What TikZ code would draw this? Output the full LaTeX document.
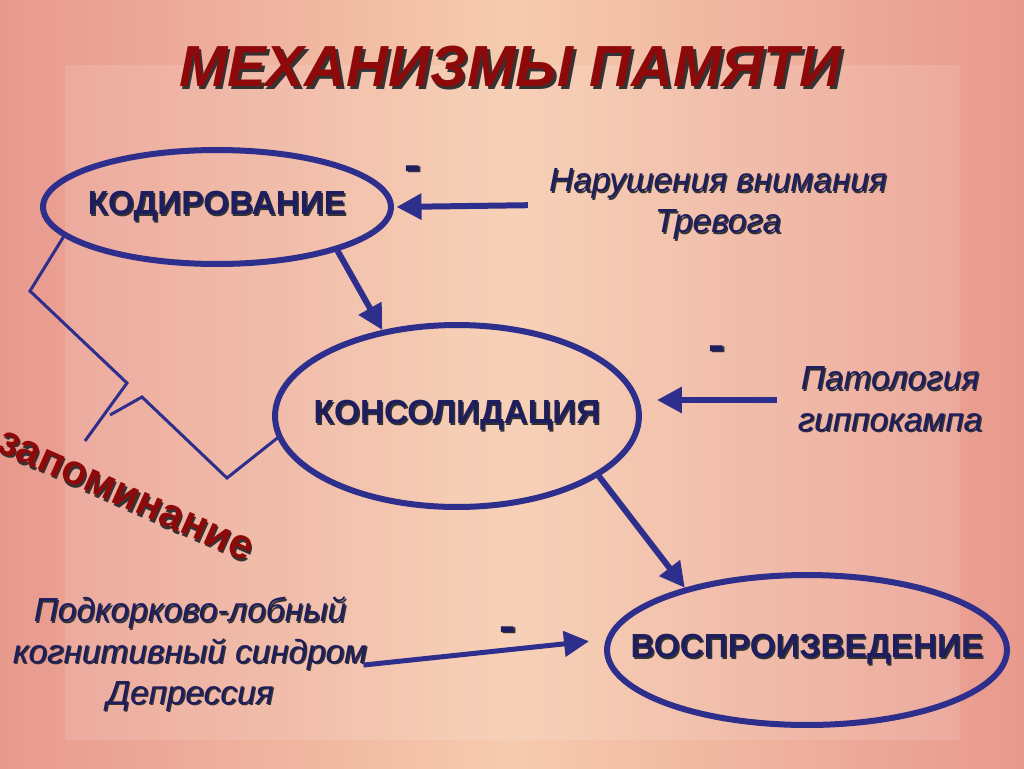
\documentclass[tikz,border=0pt]{standalone}
\usepackage{fontspec}
\setmainfont{Liberation Sans}
\usetikzlibrary{shapes.geometric, arrows.meta, calc, positioning}
\definecolor{navy}{HTML}{2E2E8C}
\definecolor{inknavy}{HTML}{1E1E5E}
\definecolor{darkred}{HTML}{8E0A0A}
\definecolor{bgpink}{HTML}{E8998D}
\definecolor{bgpeach}{HTML}{F6CBAE}
\newcommand{\shad}[3][0.8pt]{\makebox[0pt][l]{\hspace{#1}\raisebox{-#1}{\color{black!80}#3}}{\color{#2}#3}}
\newcommand{\inell}[1]{\makebox[0pt]{\shad{inknavy}{#1}}}

\tikzset{
  stage/.style={ellipse, draw=navy, line width=0.12cm, inner sep=0pt,
    font=\fontsize{19}{22}\selectfont\bfseries},
  cause/.style={align=center, font=\fontsize{19}{23.5}\selectfont\itshape},
  minus/.style={font=\fontsize{28}{28}\selectfont\bfseries},
  inhib/.style={draw=navy, line width=0.12cm, -{Triangle[length=0.5cm, width=0.5cm]}},
}

\begin{document}
\begin{tikzpicture}[x=0.02cm, y=-0.02cm]
% background
\shade[left color=bgpink, right color=bgpink, middle color=bgpeach] (0,0) rectangle (1024,768);
\fill[white, opacity=0.12] (65,65) rectangle (960,740);
\useasboundingbox (0,0) rectangle (1024,768);

\node (title) at (510,68) {\fontsize{33}{33}\selectfont\bfseries\itshape\shad[1.6pt]{darkred}{МЕХАНИЗМЫ ПАМЯТИ}};

% stages
\node[stage, minimum width=6.96cm, minimum height=2.28cm] (kod) at (217,207) {\inell{КОДИРОВАНИЕ}};
\node[stage, minimum width=7.28cm, minimum height=3.64cm] (kons) at (457,416) {\inell{КОНСОЛИДАЦИЯ}};
\node[stage, minimum width=8cm, minimum height=3cm] (vosp) at (807,650) {\inell{ВОСПРОИЗВЕДЕНИЕ}};

% causes
\node[cause] (nar) at (718,205) {\shad{inknavy}{Нарушения внимания}\\\shad{inknavy}{Тревога}};
\node[cause] (pat) at (890,400) {\shad{inknavy}{Патология}\\\shad{inknavy}{гиппокампа}};
\node[cause] (podk) at (190,655) {\shad{inknavy}{Подкорково-лобный}\\\shad{inknavy}{когнитивный синдром}\\\shad{inknavy}{Депрессия}};

\node[minus] (m1) at (413,174) {\shad{inknavy}{-}};
\node[minus] (m2) at (717,354) {\shad{inknavy}{-}};
\node[minus] (m3) at (508,635) {\shad{inknavy}{-}};

\node[rotate=-24] (zap) at (125,497) {\fontsize{24}{24}\selectfont\bfseries\shad[1.2pt]{darkred}{запоминание}};

% arrows
\draw[inhib] (kod.-20) -- (kons.131);
\draw[inhib] (kons.-23) -- (vosp.153);
\draw[inhib, shorten <=0.3cm, shorten >=0.05cm] (nar.west) -- (kod.east);
\draw[inhib, shorten <=0.3cm, shorten >=0.3cm] (pat.west) -- (pat.west -| kons.east);
\draw[inhib, line width=0.1cm, shorten <=-0.2cm, shorten >=0.34cm] ([yshift=-0.18cm]podk.east) -- (vosp.177);

% bracket
\draw[navy, line width=0.06cm] (kod.191) -- (30,291) -- (127,383) -- (85,441);
\draw[navy, line width=0.06cm] (110,415) -- (142,397) -- (227,478) -- (kons.187);
\end{tikzpicture}
\end{document}
